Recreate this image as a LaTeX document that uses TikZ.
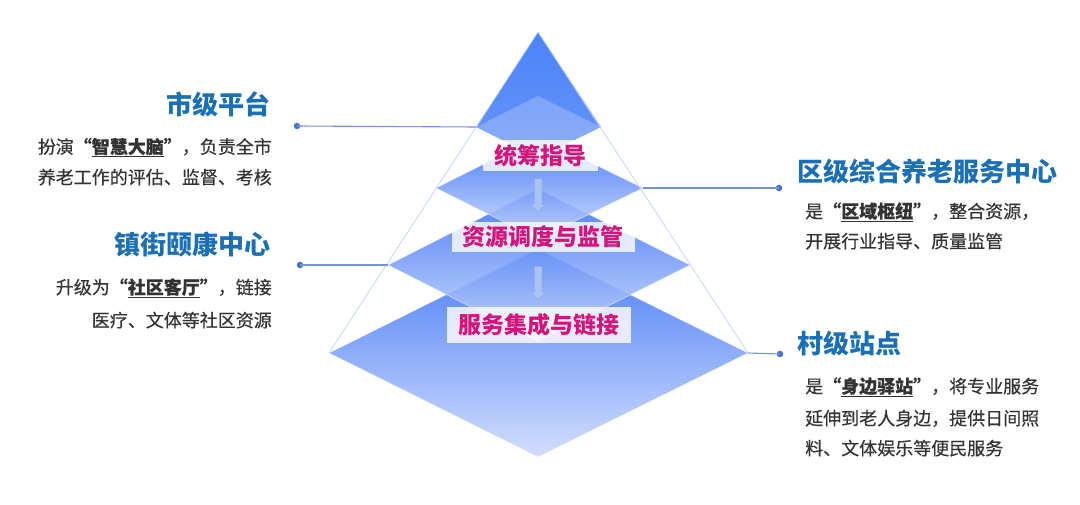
\documentclass[tikz,border=0pt]{standalone}
\usepackage{fontspec}
\setmainfont{Noto Sans CJK SC}
\newfontfamily\descfont{Noto Sans CJK SC}[FakeBold=0.35]
\usetikzlibrary{shapes.arrows}
\definecolor{titleblue}{HTML}{1B6FB5}
\definecolor{desctext}{HTML}{333333}
\definecolor{lblmag}{HTML}{D4147A}
\definecolor{linkblue}{HTML}{7393DA}
\definecolor{dotblue}{HTML}{4570D8}
\definecolor{edgeblue}{HTML}{C6D5F8}
\definecolor{ptop}{HTML}{2F6AF5}
\definecolor{pmid}{HTML}{6E96F7}
\definecolor{pbot}{HTML}{CCD9FC}
\definecolor{tritop}{HTML}{4B83F9}
\definecolor{trimid}{HTML}{336FF7}
\definecolor{tribot}{HTML}{6A95F7}
\definecolor{arrowfill}{HTML}{A9C3F4}
\definecolor{arrowedge}{HTML}{7F9BD2}
\begin{document}
\begin{tikzpicture}[x=1pt,y=-1pt,
  layer/.style={top color=ptop, middle color=pmid, bottom color=pbot, fill opacity=0.88, draw=white, draw opacity=0.6, line width=0.6pt},
  edge/.style={draw=edgeblue, line width=0.8pt},
  lblbox/.style={fill=white, fill opacity=0.8, text opacity=1, text=lblmag, inner sep=0pt,
     font=\fontsize{23}{25}\selectfont\bfseries},
  blockarrow/.style={single arrow, shape border rotate=270, fill=arrowfill, draw=arrowedge,
     densely dotted, line width=0.5pt, inner sep=3.5pt, single arrow head extend=3.5pt, minimum height=33pt},
  link/.style={draw=linkblue, line width=1.1pt},
  dot/.style={circle, fill=dotblue, inner sep=0pt, minimum size=6.5pt},
  title/.style={text=titleblue, inner sep=0pt, font=\fontsize{26}{30}\selectfont\bfseries},
  desc/.style={text=desctext, inner sep=0pt, font=\fontsize{18}{22}\descfont}
]
\useasboundingbox (0,0) rectangle (1080,505);

% key points of the pyramid
\coordinate (apex) at (538,32);
\coordinate (c1l) at (476,127); \coordinate (c1r) at (601,127);
\coordinate (c1t) at (538,96);  \coordinate (c1b) at (538,158);
\coordinate (c2l) at (436,188); \coordinate (c2r) at (643,188);
\coordinate (c2t) at (538,137); \coordinate (c2b) at (538,239);
\coordinate (c3l) at (388,265); \coordinate (c3r) at (690,265);
\coordinate (c3t) at (538,189); \coordinate (c3b) at (538,341);
\coordinate (c4l) at (329,353); \coordinate (c4r) at (748,353);
\coordinate (c4t) at (538,249); \coordinate (c4b) at (538,457);

% layers
\path[layer] (c4t) -- (c4r) -- (c4b) -- (c4l) -- cycle;
\path[layer] (c3t) -- (c3r) -- (c3b) -- (c3l) -- cycle;
\path[layer] (c2t) -- (c2r) -- (c2b) -- (c2l) -- cycle;
\path[top color=tritop, middle color=trimid, bottom color=tribot] (apex) -- (c1r) -- (c1b) -- (c1l) -- cycle;
\path[fill=white, fill opacity=0.22] (c1t) -- (c1r) -- (c1b) -- (c1l) -- cycle;

% outer edges
\draw[edge] (apex) -- (c4l);
\draw[edge] (apex) -- (c4r);

% labels
\node[lblbox, minimum width=115pt, minimum height=31pt] (L1) at (540,155.5) {统筹指导};
\node[lblbox, minimum width=183pt, minimum height=30pt] (L2) at (543,237) {资源调度与监管};
\node[lblbox, minimum width=184pt, minimum height=36pt] (L3) at (539,325) {服务集成与链接};

\node[blockarrow] (A1) at (538,193.5) {};
\node[blockarrow] (A2) at (538,281) {};

% connectors
\node[dot] (d1) at (297,126) {};
\node[dot] (d2) at (300,265) {};
\node[dot] (d3) at (779,188) {};
\node[dot] (d4) at (780,354) {};
\draw[link] (d1.center) -- (c1l);
\draw[link] (d2.center) -- (c3l);
\draw[link] (c2r) -- (d3.center);
\draw[link] (c4r) -- (d4.center);

% left texts
\node[title, anchor=base east] (T1) at (271,114.5) {市级平台};
\node[desc, anchor=base east] (T1a) at (272,153.5) {扮演\textbf{“\underline{智慧大脑}”}，负责全市};
\node[desc, anchor=base east] (T1b) at (272,184) {养老工作的评估、监督、考核};

\node[title, anchor=base east] (T2) at (271,255) {镇街颐康中心};
\node[desc, anchor=base east] (T2a) at (272,294) {升级为\textbf{“\underline{社区客厅}”}，链接};
\node[desc, anchor=base east] (T2b) at (272,327) {医疗、文体等社区资源};

% right texts
\node[title, anchor=base west] (T3) at (797,182) {区级综合养老服务中心};
\node[desc, anchor=base west] (T3a) at (805,218) {是\textbf{“\underline{区域枢纽}”}，整合资源，};
\node[desc, anchor=base west] (T3b) at (805,248) {开展行业指导、质量监管};

\node[title, anchor=base west] (T4) at (797,354) {村级站点};
\node[desc, anchor=base west] (T4a) at (805,393) {是\textbf{“\underline{身边驿站}”}，将专业服务};
\node[desc, anchor=base west] (T4b) at (805,425) {延伸到老人身边，提供日间照};
\node[desc, anchor=base west] (T4c) at (805,455) {料、文体娱乐等便民服务};
\end{tikzpicture}
\end{document}
